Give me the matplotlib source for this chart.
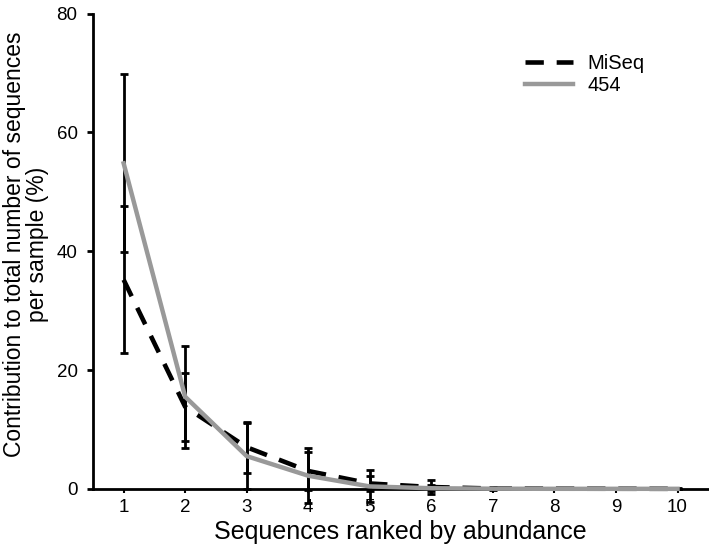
import matplotlib
matplotlib.use("Agg")
import matplotlib.pyplot as plt
import numpy as np

plt.rcParams["font.family"] = ["Liberation Sans", "DejaVu Sans"]

# 数据
ranks = [1, 2, 3, 4, 5, 6, 7, 8, 9, 10]
miseq = [35.2, 13.8, 7.0, 3.0, 0.9, 0.3, 0.05, 0.02, 0.01, 0.0]
miseq_err = [12.4, 5.7, 4.3, 3.2, 1.3, 1.2, 0.2, 0.1, 0.1, 0.0]
r454 = [54.8, 15.5, 5.5, 2.2, 0.4, 0.1, 0.02, 0.0, 0.0, 0.0]
r454_err = [15.0, 8.6, 5.6, 4.6, 2.7, 0.5, 0.1, 0.1, 0.1, 0.1]

fig = plt.figure(figsize=(7.09, 5.48), dpi=100)
ax = fig.add_axes([0.131, 0.108, 0.868, 0.867])

# 误差线
for vals, errs in [(miseq, miseq_err), (r454, r454_err)]:
    ax.errorbar(ranks, vals, yerr=errs, fmt="none", ecolor="black",
                elinewidth=2, capsize=3, capthick=2, clip_on=False, zorder=2)

# 曲线
ax.plot(ranks, miseq, color="black", lw=3.3, ls=(0, (4, 2.8)), label="MiSeq",
        zorder=3, clip_on=False)
ax.plot(ranks, r454, color="#999999", lw=3.2, label="454", zorder=4, clip_on=False)

ax.set_xlim(0.5, 10.5)
ax.set_ylim(0, 80)
ax.set_xticks(ranks)
ax.set_yticks([0, 20, 40, 60, 80])
ax.tick_params(axis="both", labelsize=13.5, width=2, direction="out")
ax.tick_params(axis="y", length=4, pad=7)
ax.tick_params(axis="x", length=3, width=1.5, pad=4)

for s in ["top", "right"]:
    ax.spines[s].set_visible(False)
for s in ["left", "bottom"]:
    ax.spines[s].set_linewidth(2)

ax.set_xlabel("Sequences ranked by abundance", fontsize=18, labelpad=3)
ax.set_ylabel("Contribution to total number of sequences\nper sample (%)",
              fontsize=16.5, linespacing=1.0)
ax.yaxis.set_label_coords(-0.072, 0.514)

ax.legend(loc="upper left", bbox_to_anchor=(0.702, 0.915), frameon=False,
          fontsize=14.5, handlelength=2.4, handletextpad=0.7, labelspacing=0.15,
          borderpad=0, borderaxespad=0)

fig.savefig("out.png", dpi=100)
